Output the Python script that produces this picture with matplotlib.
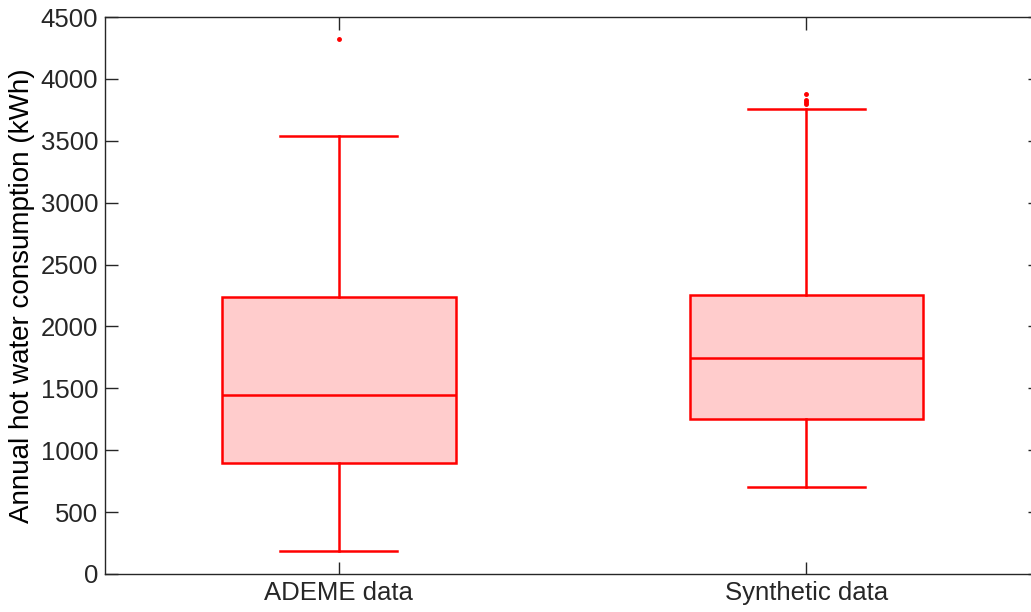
import matplotlib
matplotlib.use("Agg")
import matplotlib.pyplot as plt

plt.rcParams['font.family'] = ['Liberation Sans', 'DejaVu Sans']

groups = ["ADEME data", "Synthetic data"]
whislo = [186, 703]
q1 = [897, 1252]
med = [1446, 1745]
q3 = [2238, 2254]
whishi = [3538, 3757]
fliers = [[4322], [3878, 3830, 3812, 3795]]

stats = []
for i, name in enumerate(groups):
    stats.append(dict(label=name, whislo=whislo[i], q1=q1[i], med=med[i],
                      q3=q3[i], whishi=whishi[i], fliers=fliers[i]))

fig = plt.figure(figsize=(10.31, 6.12), dpi=100)
ax = fig.add_axes([0.1018, 0.0621, 0.9072, 0.9101])

red = '#ff0000'
ax.bxp(stats, positions=[1, 2], widths=0.5, patch_artist=True,
       boxprops=dict(facecolor='#ffcccc', edgecolor=red, linewidth=1.8),
       medianprops=dict(color=red, linewidth=1.8),
       whiskerprops=dict(color=red, linewidth=1.8),
       capprops=dict(color=red, linewidth=1.8),
       capwidths=0.25,
       flierprops=dict(marker='o', markersize=2.5, markerfacecolor=red,
                       markeredgecolor=red, linestyle='none'))

ax.set_xlim(0.5, 2.5)
ax.set_ylim(0, 4500)
ax.set_yticks(range(0, 4501, 500))
ax.set_ylabel("Annual hot water consumption (kWh)", fontsize=20, labelpad=4)
ax.tick_params(direction='in', length=9, width=1, colors='#262626',
               labelsize=18.5, top=True, right=True, pad=5)
for s in ax.spines.values():
    s.set_color('#262626')
    s.set_linewidth(1)

fig.savefig("out.png", dpi=100)
